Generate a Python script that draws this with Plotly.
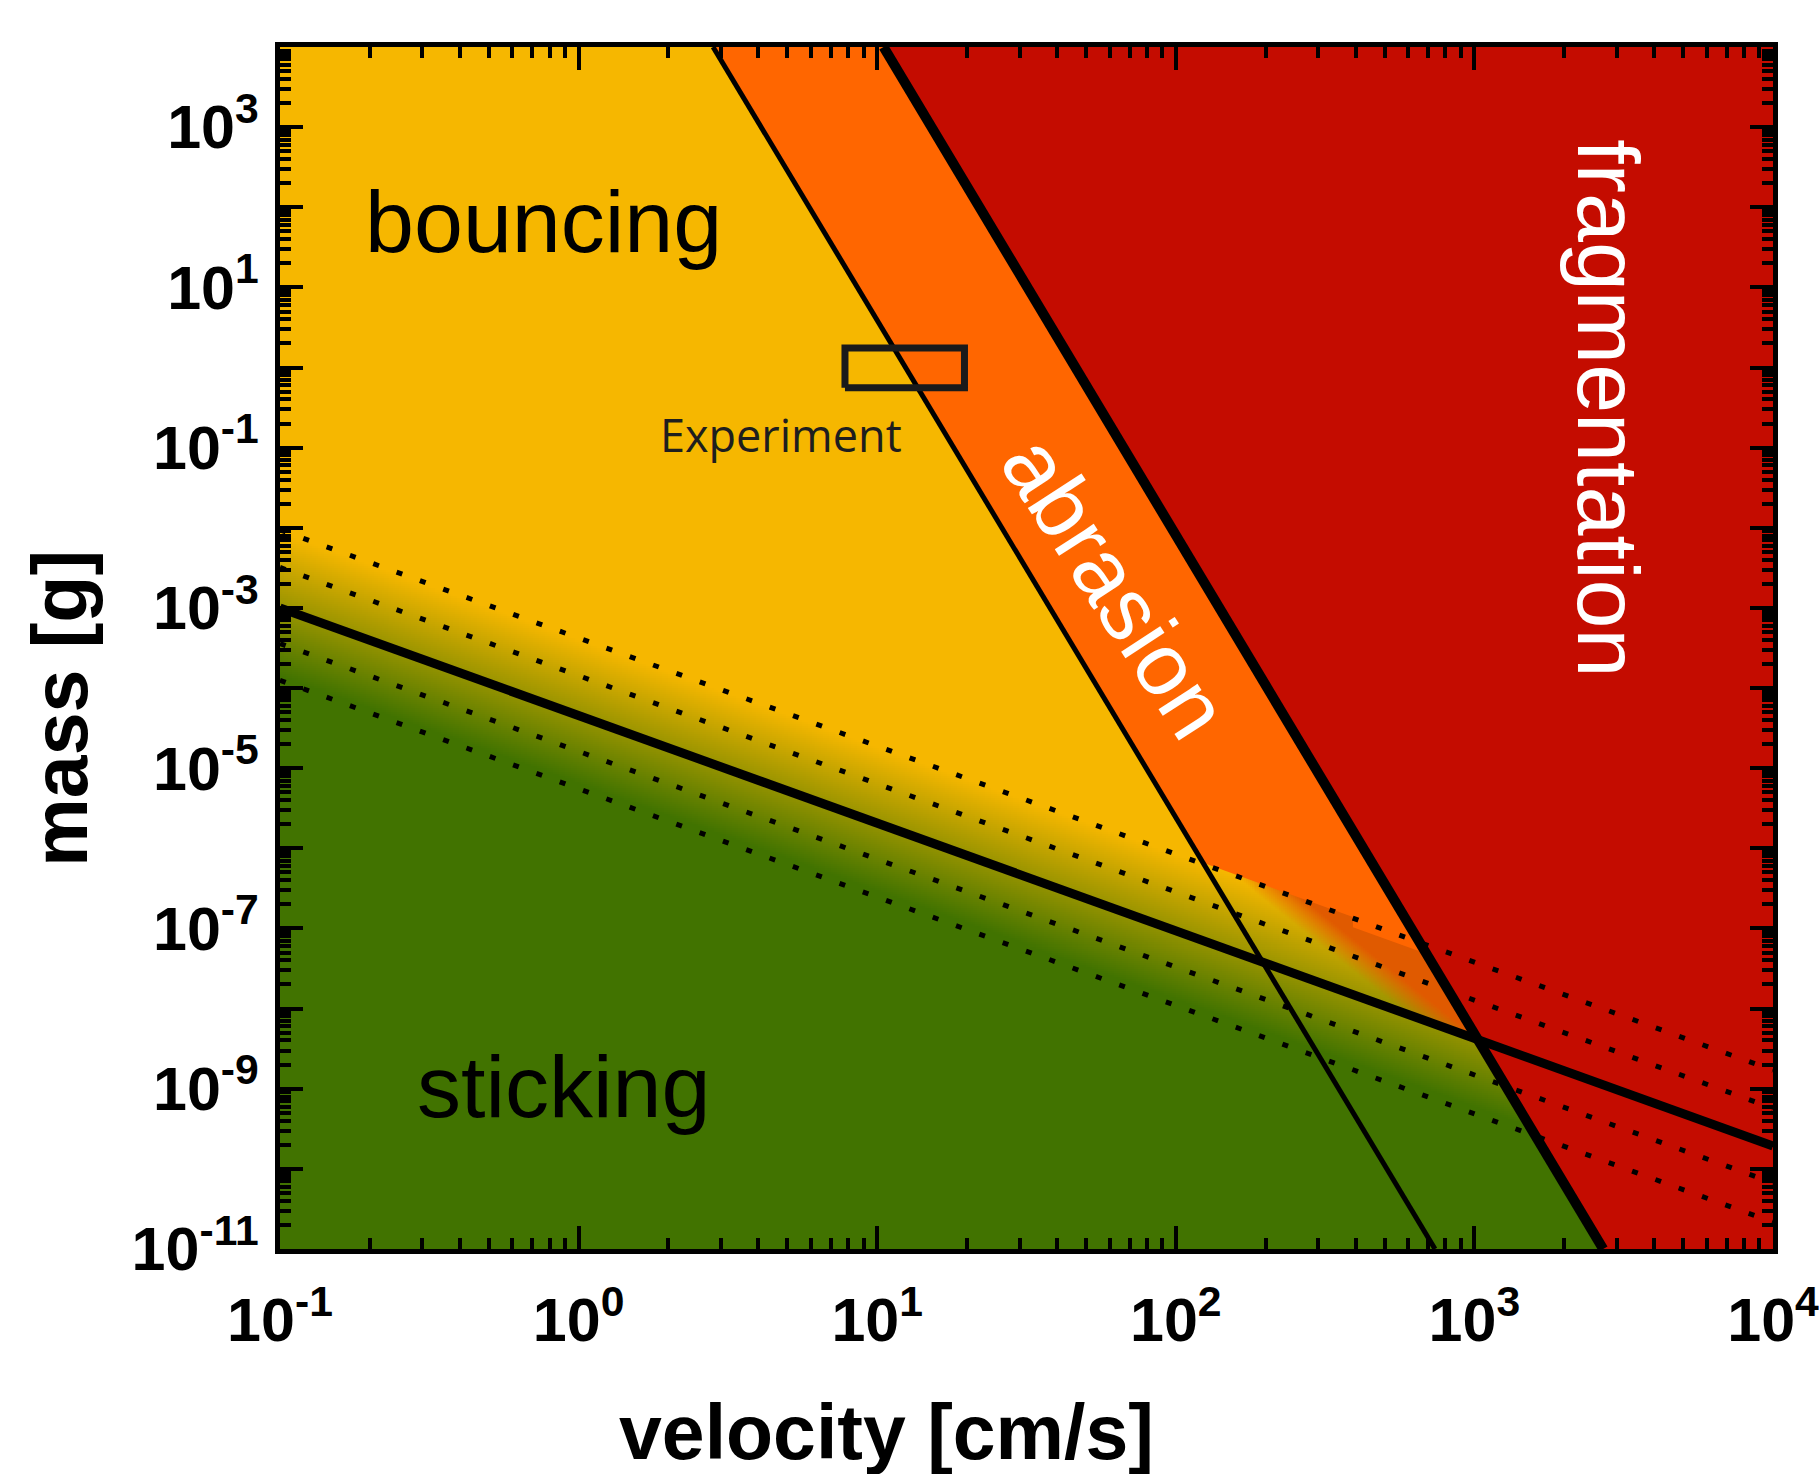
import numpy as np
import plotly.graph_objects as go

# ---------------- data ----------------
x_range_log = [-1.0, 4.0]          # velocity decades
y_range_log = [-11.0, 4.0]         # mass decades

x_tick_exp = [-1, 0, 1, 2, 3, 4]
y_label_exp = [-11, -9, -7, -5, -3, -1, 1, 3]
y_unlabeled_exp = [-10, -8, -6, -4, -2, 0, 2, 4]

# boundary lines: velocity [cm/s], mass [g]
bounce_abrasion_v = [2.82, 738.0]
bounce_abrasion_m = [1e4, 1e-11]
abrasion_frag_v = [10.5, 2700.0]
abrasion_frag_m = [1e4, 1e-11]
stick_bounce_v = [0.1, 1e4]
stick_bounce_m = [1e-3, 1.93e-10]

# dotted lines (parallel to sticking/bouncing line)
dotted_v = [0.1, 1e4]
dotted_m_left = [9.4e-3, 3.2e-3, 3.6e-4, 1.25e-4]
dotted_m_right = [1.7e-9, 5.7e-10, 6.7e-11, 2.16e-11]

# experiment box
exp_v = [7.8, 19.6]
exp_m = [0.56, 1.75]

# transition band (decades relative to the sticking line)
transition_top = 0.95
transition_bottom = -0.85
abrasion_floor = [0.97, 0.84]     # lower edge of pure abrasion region (before / after step)
abrasion_step_v = 392.0

# colours
c_stick = "rgb(65,115,0)"
c_bounce = "rgb(246,183,0)"
c_abrasion = "rgb(255,102,0)"
c_abrasion_dark = (224, 90, 0)
c_frag = "rgb(196,12,0)"


def P(a):
    return np.power(10.0, np.asarray(a, dtype=float))


# ---------------- helpers ----------------
def line_pq(v, m):
    lv = np.log10(np.asarray(v, float)); lm = np.log10(np.asarray(m, float))
    q = (lm[1] - lm[0]) / (lv[1] - lv[0])
    p = lm[0] - q * lv[0]
    return p, q


pA, qA = line_pq(bounce_abrasion_v, bounce_abrasion_m)
pB, qB = line_pq(abrasion_frag_v, abrasion_frag_m)
pC, qC = line_pq(stick_bounce_v, stick_bounce_m)


def inter(p1, q1, p2, q2):
    lv = (p2 - p1) / (q1 - q2)
    return lv, p1 + q1 * lv


# ---------------- background gradient heatmap ----------------
nx, ny = 750, 600
ev = np.linspace(x_range_log[0], x_range_log[1], nx + 1)
em = np.linspace(y_range_log[0], y_range_log[1], ny + 1)
cv = 0.5 * (ev[:-1] + ev[1:])
cm = 0.5 * (em[:-1] + em[1:])
LV, LM = np.meshgrid(cv, cm)
D = LM - (pC + qC * LV)
T = np.clip((D - transition_bottom) / (transition_top - transition_bottom), 0, 1)
z1 = np.round(T, 3)

fig = go.Figure()
fig.add_trace(go.Heatmap(
    x=P(ev), y=P(em), z=z1, zmin=0, zmax=1, zsmooth=False,
    colorscale=[[0, c_stick], [1, c_bounce]], showscale=False, hoverinfo="skip"))

# orange tint inside abrasion band, above sticking line
sv = ev[(ev >= 1.9) & (ev <= 3.3)]
sm = em[(em >= -9.0) & (em <= -5.4)]
scv = 0.5 * (sv[:-1] + sv[1:])
scm = 0.5 * (sm[:-1] + sm[1:])
SLV, SLM = np.meshgrid(scv, scm)
SD = SLM - (pC + qC * SLV)
lvA = (SLM - pA) / qA
lvB = (SLM - pB) / qB
inside = (SLV > lvA) & (SLV < lvB) & (SD > 0) & (SD < 1.2)
W = np.clip((SLM + 3 * SLV - 0.25) / 0.4, 0, 1)
z2 = np.where(inside, np.round(W, 3), np.nan)
z2l = [[None if np.isnan(val) else float(val) for val in row] for row in z2]
r, g, b = c_abrasion_dark
fig.add_trace(go.Heatmap(
    x=P(sv), y=P(sm), z=z2l, zmin=0, zmax=1, zsmooth=False,
    colorscale=[[0, f"rgba({r},{g},{b},0)"], [1, f"rgba({r},{g},{b},1)"]],
    showscale=False, hoverinfo="skip"))

# ---------------- solid regions ----------------
lvA_top = (y_range_log[1] - pA) / qA
lvB_top = (y_range_log[1] - pB) / qB
lvB_bot = (y_range_log[0] - pB) / qB
ls = np.log10(abrasion_step_v)
pB2 = inter(pB, qB, pC + abrasion_floor[1], qC)
pA1 = inter(pA, qA, pC + abrasion_floor[0], qC)
poly_lv = [lvA_top, lvB_top, pB2[0], ls, ls, pA1[0]]
poly_lm = [y_range_log[1], y_range_log[1], pB2[1],
           pC + qC * ls + abrasion_floor[1], pC + qC * ls + abrasion_floor[0], pA1[1]]
fig.add_trace(go.Scatter(
    x=P(poly_lv), y=P(poly_lm), mode="lines", fill="toself",
    fillcolor=c_abrasion, line=dict(width=0, color=c_abrasion), hoverinfo="skip"))
fig.add_trace(go.Scatter(
    x=P([lvB_top, x_range_log[1], x_range_log[1], lvB_bot]),
    y=P([y_range_log[1], y_range_log[1], y_range_log[0], y_range_log[0]]),
    mode="lines", fill="toself", fillcolor=c_frag, line=dict(width=0, color=c_frag),
    hoverinfo="skip"))

# ---------------- lines ----------------
for ml, mr in zip(dotted_m_left, dotted_m_right):
    fig.add_trace(go.Scatter(x=dotted_v, y=[ml, mr], mode="lines",
                             line=dict(color="black", width=5, dash="6px,18.8px"),
                             hoverinfo="skip"))
fig.add_trace(go.Scatter(x=stick_bounce_v, y=stick_bounce_m, mode="lines",
                         line=dict(color="black", width=9), hoverinfo="skip"))
fig.add_trace(go.Scatter(x=bounce_abrasion_v, y=bounce_abrasion_m, mode="lines",
                         line=dict(color="black", width=5), hoverinfo="skip"))
fig.add_trace(go.Scatter(x=abrasion_frag_v, y=abrasion_frag_m, mode="lines",
                         line=dict(color="black", width=10), hoverinfo="skip"))
fig.add_trace(go.Scatter(x=[exp_v[0], exp_v[1], exp_v[1], exp_v[0], exp_v[0]],
                         y=[exp_m[0], exp_m[0], exp_m[1], exp_m[1], exp_m[0]],
                         mode="lines", line=dict(color="#1a1a1a", width=7),
                         hoverinfo="skip"))
# invisible trace to activate the secondary (tick-only) y axis
fig.add_trace(go.Scatter(x=[None], y=[None], yaxis="y2", mode="lines",
                         hoverinfo="skip", showlegend=False))

# ---------------- annotations ----------------
lab_font = "Liberation Sans, Arial, sans-serif"


def ann(x, y, text, size, color, angle=0, family=lab_font, ref="data", weight="normal"):
    d = dict(x=x, y=y, text=text, showarrow=False, textangle=angle,
             font=dict(family=family, size=size, color=color, weight=weight),
             xanchor="center", yanchor="middle")
    if ref == "paper":
        d.update(xref="paper", yref="paper")
    else:
        d.update(xref="x", yref="y")
    fig.add_annotation(**d)


ann(-0.119, 1.82, "bouncing", 88, "black")
ann(-0.052, -8.97, "sticking", 88, "black")
ann(1.80, -2.74, "abrasion", 88, "white", angle=57)
ann(3.45, -0.505, "fragmentation", 88, "white", angle=90)
ann(0.678, -0.83, "Experiment", 45, "#1e1e1e", family="Open Sans, sans-serif")
ann(0.406, -0.152, "velocity [cm/s]", 77, "black", ref="paper", weight="bold")
ann(-0.147, 0.45, "mass [g]", 77, "black", angle=-90, ref="paper", weight="bold")

# ---------------- axes ----------------
def sup(e):
    return f"10<sup>{e}</sup>"


x_minor = [k * 10.0 ** e for e in range(-1, 4) for k in range(2, 10)]
y_minor = [k * 10.0 ** e for e in range(-11, 4) for k in range(2, 10)]
tickfont = dict(family=lab_font, size=61, color="black", weight="bold")
common = dict(ticks="inside", ticklen=23, tickwidth=4, tickcolor="black",
              showline=True, linewidth=5, linecolor="black", mirror="ticks",
              showgrid=False, zeroline=False, automargin=False)

fig.update_layout(
    xaxis=dict(type="log", range=x_range_log, tickmode="array",
               tickvals=[10.0 ** e for e in x_tick_exp],
               ticktext=[sup(e) for e in x_tick_exp],
               tickfont=tickfont, ticklabeloverflow="allow", ticklabelstandoff=14,
               minor=dict(tickmode="array", tickvals=x_minor, ticks="inside", ticklen=11,
                          tickwidth=3.5, tickcolor="black", showgrid=False),
               **common),
    yaxis=dict(type="log", range=y_range_log, tickmode="array",
               tickvals=[10.0 ** e for e in y_label_exp],
               ticktext=[sup(e) for e in y_label_exp],
               tickfont=tickfont, ticklabeloverflow="allow", ticklabelstandoff=4,
               minor=dict(tickmode="array", tickvals=y_minor, ticks="inside", ticklen=11,
                          tickwidth=3.5, tickcolor="black", showgrid=False),
               **common),
    yaxis2=dict(type="log", range=y_range_log, overlaying="y", side="left",
                tickmode="array", tickvals=[10.0 ** e for e in y_unlabeled_exp],
                showticklabels=False, **common),
    width=1819, height=1474,
    margin=dict(l=280, r=46, t=47, b=225),
    plot_bgcolor="white", paper_bgcolor="white",
    showlegend=False)

fig.write_html("out.html", config={"displayModeBar": False},
               post_script="document.body.style.margin='0px';")
